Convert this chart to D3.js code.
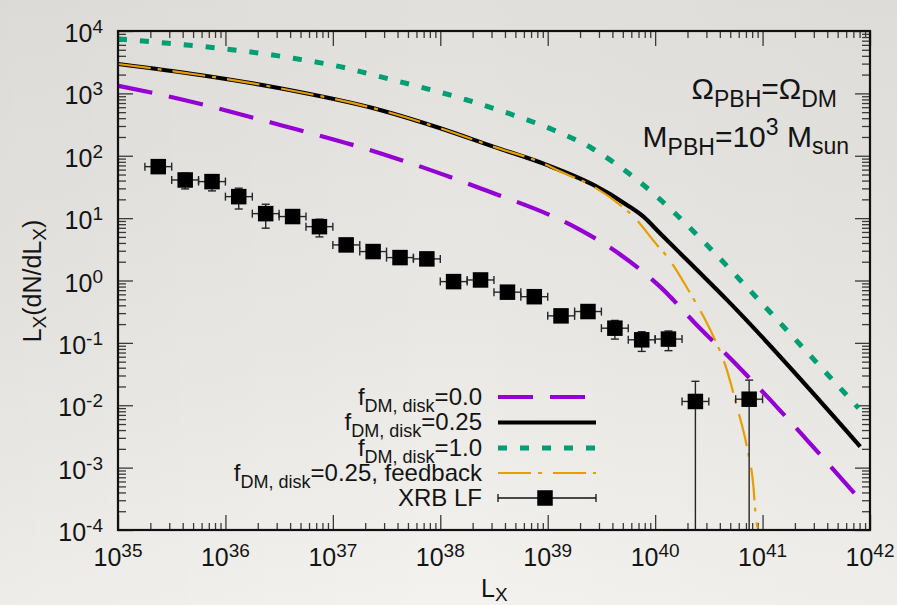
<!DOCTYPE html>
<html>
<head>
<meta charset="utf-8">
<script src="https://cdn.jsdelivr.net/npm/d3@7"></script>
<style>
  html, body { margin: 0; padding: 0; background: #ecebe7; }
  svg { display: block; }
  text { white-space: pre; }
</style>
</head>
<body>
<svg id="chart" width="897" height="605"></svg>
<script>
// ---------------- DATA ----------------
// Model curves: L_X values and L_X dN/dL_X values
const lxDisk00 = [1e35, 3.05e35, 3.22e36, 2.75e37, 2.35e38, 1.87e39, 4.55e39, 1.11e40, 2.44e40, 5.36e40, 1.18e41, 2.58e41, 8.11e41];
const valDisk00 = [1327, 885, 312, 110, 30.1, 6.89, 2.74, 0.798, 0.194, 0.0501, 0.0122, 2.79e-3, 3.05e-4];

const lxDisk025 = [1e35, 5.79e35, 3.22e36, 2.75e37, 1.0e38, 3.12e38, 9.8e38, 2.67e39, 5.46e39, 7.78e39, 1.11e40, 2.28e40, 4.66e40, 8.11e41];
const valDisk025 = [2960, 1972, 1208, 542, 276, 140, 71.3, 34.0, 16.3, 10.57, 5.73, 1.67, 0.489, 2.18e-3];

const lxDisk10 = [1e35, 4.29e36, 1.17e37, 2.75e37, 1.77e38, 4.47e38, 1.13e39, 2.58e39, 3.81e39, 7.78e39, 1.59e40, 3.03e40, 6.18e40, 2.98e41, 7.82e41];
const valDisk10 = [7450, 3656, 2680, 1854, 783, 468, 259, 132, 85.7, 34.0, 11.2, 3.72, 1.02, 0.0548, 0.0090];

const lxFeedback = [1e35, 5.79e35, 3.22e36, 2.75e37, 1.0e38, 3.12e38, 9.8e38, 1.30e39, 2.67e39, 4.72e39, 6.28e39, 1.04e40, 1.29e40, 2.12e40, 2.82e40, 3.49e40, 4.49e40, 5.77e40, 7.14e40, 8.22e40, 8.67e40, 9.0e40];
const valFeedback = [2960, 1972, 1208, 542, 276, 140, 71.3, 56.2, 32.0, 16.3, 10.6, 3.72, 2.42, 0.625, 0.264, 0.126, 0.0444, 9.53e-3, 2.18e-3, 4.98e-4, 1.55e-4, 1.08e-4];

// XRB luminosity function points
const xrbLx   = [2.37e35, 4.22e35, 7.50e35, 1.33e36, 2.37e36, 4.22e36, 7.50e36, 1.33e37, 2.37e37, 4.22e37, 7.50e37, 1.33e38, 2.37e38, 4.22e38, 7.50e38, 1.33e39, 2.37e39, 4.22e39, 7.50e39, 1.33e40, 2.37e40, 7.50e40];
const xrbBinLo = [1.78e35, 3.16e35, 5.62e35, 1.00e36, 1.78e36, 3.16e36, 5.62e36, 1.00e37, 1.78e37, 3.16e37, 5.62e37, 1.00e38, 1.78e38, 3.16e38, 5.62e38, 1.00e39, 1.78e39, 3.16e39, 5.62e39, 1.00e40, 1.78e40, 5.62e40];
const xrbBinHi = [3.16e35, 5.62e35, 1.00e36, 1.78e36, 3.16e36, 5.62e36, 1.00e37, 1.78e37, 3.16e37, 5.62e37, 1.00e38, 1.78e38, 3.16e38, 5.62e38, 1.00e39, 1.78e39, 3.16e39, 5.62e39, 1.00e40, 1.78e40, 3.16e40, 1.00e41];
const xrbVal  = [66.9, 40.9, 38.5, 22.1, 11.8, 10.6, 7.3, 3.72, 2.91, 2.33, 2.22, 0.96, 1.02, 0.65, 0.55, 0.271, 0.318, 0.172, 0.112, 0.115, 0.0115, 0.0125];
const xrbErr  = [13, 11.5, 11.2, 8.1, 4.9, 2.1, 2.3, 0.74, 0.58, 0.35, 0.33, 0.14, 0.15, 0.13, 0.11, 0.054, 0.064, 0.057, 0.039, 0.040, 0.0127, 0.0128];

// Axis ticks
const xTickExponents = ["35", "36", "37", "38", "39", "40", "41", "42"];
const yTickExponents = ["-4", "-3", "-2", "-1", "0", "1", "2", "3", "4"];

const legendLabels = [
  [["f", 0], ["DM, disk", 1], ["=0.0", 0]],
  [["f", 0], ["DM, disk", 1], ["=0.25", 0]],
  [["f", 0], ["DM, disk", 1], ["=1.0", 0]],
  [["f", 0], ["DM, disk", 1], ["=0.25, feedback", 0]],
  [["XRB LF", 0]]
];

// ---------------- SETUP ----------------
const FONT = '"Liberation Sans", Arial, Helvetica, sans-serif';
const W = 897, H = 605;
const L = 118, R = 870, T = 31, B = 530;

const svg = d3.select("#chart");
const defs = svg.append("defs");
const grad = defs.append("linearGradient").attr("id", "bg").attr("x1", 0).attr("y1", 0).attr("x2", 0).attr("y2", 1);
grad.append("stop").attr("offset", "0%").attr("stop-color", "#e2e0dc");
grad.append("stop").attr("offset", "55%").attr("stop-color", "#e9e8e4");
grad.append("stop").attr("offset", "100%").attr("stop-color", "#f3f2ee");
const grad2 = defs.append("linearGradient").attr("id", "bgx").attr("x1", 0).attr("y1", 0).attr("x2", 1).attr("y2", 0);
grad2.append("stop").attr("offset", "0%").attr("stop-color", "#000").attr("stop-opacity", 0.025);
grad2.append("stop").attr("offset", "50%").attr("stop-color", "#000").attr("stop-opacity", 0);
grad2.append("stop").attr("offset", "100%").attr("stop-color", "#000").attr("stop-opacity", 0.02);
defs.append("clipPath").attr("id", "plotclip").append("rect")
  .attr("x", L).attr("y", T).attr("width", R - L).attr("height", B - T);

svg.append("rect").attr("width", W).attr("height", H).attr("fill", "url(#bg)");
svg.append("rect").attr("width", W).attr("height", H).attr("fill", "url(#bgx)");

const x = d3.scaleLog().domain([1e35, 1e42]).range([L, R]);
const y = d3.scaleLog().domain([1e-4, 1e4]).range([B, T]);

const xMajor = xTickExponents.map(e => Math.pow(10, +e));
const yMajor = yTickExponents.map(e => Math.pow(10, +e));
const minorOf = majors => {
  const out = [];
  majors.slice(0, -1).forEach(m => { for (let k = 2; k <= 9; k++) out.push(m * k); });
  return out;
};
const xMinor = minorOf(xMajor);
const yMinor = minorOf(yMajor);

// ---------------- TICKS (inward, mirrored) ----------------
function tickAxis(axis, transform) {
  const g = svg.append("g").attr("transform", transform).call(axis);
  g.select(".domain").remove();
  g.selectAll(".tick line").attr("stroke", "#3a3a3a").attr("stroke-width", 1.3);
  g.selectAll(".tick text").remove();
}
tickAxis(d3.axisBottom(x).tickValues(xMajor).tickSize(-15).tickFormat(""), `translate(0,${B})`);
tickAxis(d3.axisBottom(x).tickValues(xMinor).tickSize(-7).tickFormat(""), `translate(0,${B})`);
tickAxis(d3.axisTop(x).tickValues(xMajor).tickSize(-15).tickFormat(""), `translate(0,${T})`);
tickAxis(d3.axisTop(x).tickValues(xMinor).tickSize(-7).tickFormat(""), `translate(0,${T})`);
tickAxis(d3.axisLeft(y).tickValues(yMajor).tickSize(-15).tickFormat(""), `translate(${L},0)`);
tickAxis(d3.axisLeft(y).tickValues(yMinor).tickSize(-8).tickFormat(""), `translate(${L},0)`);
tickAxis(d3.axisRight(y).tickValues(yMajor).tickSize(-15).tickFormat(""), `translate(${R},0)`);
tickAxis(d3.axisRight(y).tickValues(yMinor).tickSize(-8).tickFormat(""), `translate(${R},0)`);

// ---------------- rich text helper ----------------
function rich(parent, px, py, parts, anchor, size, extra) {
  const t = parent.append("text").attr("x", px).attr("y", py)
    .attr("text-anchor", anchor).attr("font-family", FONT)
    .attr("font-size", size).attr("fill", "#141414");
  if (extra) extra(t);
  let cur = 0;
  parts.forEach(p => {
    const shift = p.shift || 0;
    const ts = t.append("tspan").text(p.t).attr("dy", shift - cur);
    if (p.size) ts.attr("font-size", p.size);
    cur = shift;
  });
  return t;
}

// tick labels
const labels = svg.append("g");
xTickExponents.forEach((e, i) => {
  rich(labels, x(xMajor[i]), 566, [{ t: "10" }, { t: e, size: 19, shift: -9 }], "middle", 25);
});
yTickExponents.forEach((e, i) => {
  rich(labels, 103, y(yMajor[i]) + 11, [{ t: "10" }, { t: e, size: 19, shift: -9 }], "end", 25);
});

// axis titles
rich(labels, 481, 597, [{ t: "L" }, { t: "X", size: 19, shift: 4 }], "start", 25);
rich(labels, 0, 0, [{ t: "L" }, { t: "X", size: 19, shift: 5 }, { t: "(dN/dL" }, { t: "X", size: 19, shift: 5 }, { t: ")" }], "middle", 25,
  t => t.attr("transform", "translate(41,281) rotate(-90)"));

// ---------------- CURVES ----------------
const plot = svg.append("g").attr("clip-path", "url(#plotclip)");
const line = d3.line().x(d => x(d[0])).y(d => y(d[1])).curve(d3.curveMonotoneX);
const zip = (a, b) => a.map((v, i) => [v, b[i]]);

const styles = [
  { stroke: "#9400d3", width: 4.2, dash: "35 17" },
  { stroke: "#000000", width: 4.2, dash: null },
  { stroke: "#009e73", width: 5, dash: "9 13" },
  { stroke: "#e69f00", width: 2.2, dash: "33 7 4 11" }
];
const curveData = [zip(lxDisk00, valDisk00), zip(lxDisk025, valDisk025), zip(lxDisk10, valDisk10), zip(lxFeedback, valFeedback)];
curveData.forEach((d, i) => {
  const s = styles[i];
  const p = plot.append("path").datum(d).attr("d", line)
    .attr("fill", "none").attr("stroke", s.stroke).attr("stroke-width", s.width);
  if (s.dash) p.attr("stroke-dasharray", s.dash);
});

// ---------------- XRB DATA POINTS ----------------
const pts = xrbLx.map((v, i) => ({ x: v, lo: xrbBinLo[i], hi: xrbBinHi[i], y: xrbVal[i], e: xrbErr[i] }));
const bars = plot.append("g").attr("stroke", "#262626").attr("stroke-width", 1.4).attr("fill", "none");
const cap = 4;
pts.forEach(p => {
  const cx = x(p.x), cy = y(p.y);
  const x0 = x(p.lo), x1 = x(p.hi);
  bars.append("line").attr("x1", x0).attr("x2", x1).attr("y1", cy).attr("y2", cy);
  bars.append("line").attr("x1", x0).attr("x2", x0).attr("y1", cy - cap).attr("y2", cy + cap);
  bars.append("line").attr("x1", x1).attr("x2", x1).attr("y1", cy - cap).attr("y2", cy + cap);
  const yTop = y(p.y + p.e);
  const lowVal = p.y - p.e;
  const yBot = lowVal > 0 ? y(lowVal) : B + 5;
  bars.append("line").attr("x1", cx).attr("x2", cx).attr("y1", yTop).attr("y2", yBot);
  bars.append("line").attr("x1", cx - cap).attr("x2", cx + cap).attr("y1", yTop).attr("y2", yTop);
  if (lowVal > 0) bars.append("line").attr("x1", cx - cap).attr("x2", cx + cap).attr("y1", yBot).attr("y2", yBot);
});
const SQ = 15.5;
plot.append("g").selectAll("rect").data(pts).join("rect")
  .attr("x", d => x(d.x) - SQ / 2).attr("y", d => y(d.y) - SQ / 2)
  .attr("width", SQ).attr("height", SQ).attr("fill", "#000");

// ---------------- FRAME ----------------
svg.append("rect").attr("x", L).attr("y", T).attr("width", R - L).attr("height", B - T)
  .attr("fill", "none").attr("stroke", "#111").attr("stroke-width", 2.2);

// ---------------- LEGEND ----------------
const legend = svg.append("g");
const legRowY = [397, 422.5, 448, 473, 498];
const lx0 = 498, lx1 = 596;
legendLabels.forEach((parts, i) => {
  const ly = legRowY[i];
  rich(legend, 482, ly + 7.5, parts.map(([t, sub]) => sub ? { t, size: 18, shift: 7 } : { t }), "end", 24);
  if (i < 4) {
    const s = styles[i];
    const p = legend.append("line").attr("x1", lx0).attr("x2", lx1).attr("y1", ly).attr("y2", ly)
      .attr("stroke", s.stroke).attr("stroke-width", s.width);
    if (s.dash) p.attr("stroke-dasharray", s.dash);
  } else {
    const g = legend.append("g").attr("stroke", "#111").attr("stroke-width", 1.3);
    g.append("line").attr("x1", lx0).attr("x2", lx1).attr("y1", ly).attr("y2", ly);
    g.append("line").attr("x1", lx0).attr("x2", lx0).attr("y1", ly - 4).attr("y2", ly + 4);
    g.append("line").attr("x1", lx1).attr("x2", lx1).attr("y1", ly - 4).attr("y2", ly + 4);
    legend.append("rect").attr("x", (lx0 + lx1) / 2 - 2 - SQ / 2).attr("y", ly - SQ / 2)
      .attr("width", SQ).attr("height", SQ).attr("fill", "#000");
  }
});

// ---------------- ANNOTATION ----------------
const ann = svg.append("g");
rich(ann, 837, 99, [{ t: "Ω" }, { t: "PBH", size: 23, shift: 8 }, { t: "=Ω" }, { t: "DM", size: 23, shift: 8 }], "end", 30);
rich(ann, 849, 147, [{ t: "M" }, { t: "PBH", size: 23, shift: 8 }, { t: "=10" }, { t: "3", size: 23, shift: -12 }, { t: " M" }, { t: "sun", size: 23, shift: 7 }], "end", 30);
</script>
</body>
</html>
